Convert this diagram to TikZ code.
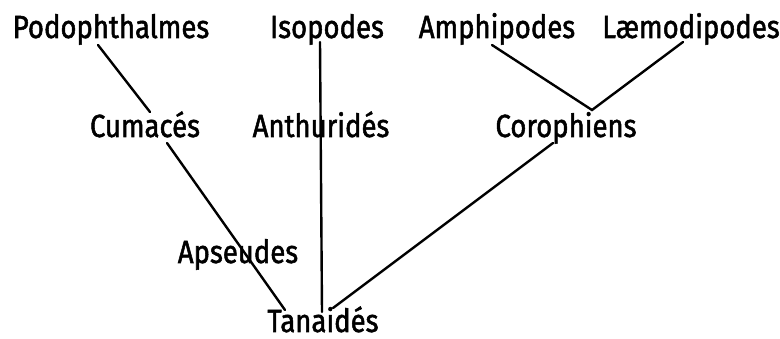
\documentclass[tikz,border=0pt]{standalone}
\usepackage{fontspec}
\setmainfont[FakeStretch=0.86,FakeBold=1.6]{Fira Sans}
\begin{document}
\begin{tikzpicture}[x=1pt,y=-1pt,
  lbl/.style={anchor=base,inner sep=0pt,font=\fontsize{32}{32}\selectfont},
  branch/.style={line width=2.4pt,line cap=round}]
\useasboundingbox (0,0) rectangle (780,339);
% labels
\node[lbl] (podo) at (111,38) {Podophthalmes};
\node[lbl] (iso) at (327,38) {Isopodes};
\node[lbl] (amphi) at (497,38) {Amphipodes};
\node[lbl] (laemo) at (691,38) {Læmodipodes};
\node[lbl] (cuma) at (145,137) {Cumacés};
\node[lbl] (anth) at (321,137) {Anthuridés};
\node[lbl] (coro) at (566,137) {Corophiens};
\node[lbl] (apse) at (238,263) {Apseudes};
\node[lbl] (tana) at (323,332) {Tanaidés};
% connector ends
\coordinate (podoB) at (98,45);
\coordinate (cumaT) at (150,112);
\coordinate (cumaB) at (167,143);
\coordinate (isoB) at (320,42);
\coordinate (amphiB) at (492,45);
\coordinate (laemoB) at (683,42);
\coordinate (coroJ) at (592,110);
\coordinate (coroB) at (553,143);
\coordinate (tanaL) at (285,310);
\coordinate (tanaM) at (322,312);
\coordinate (tanaR) at (333,308);
% connectors
\draw[branch] (podoB) -- (cumaT);
\draw[branch] (cumaB) -- (tanaL);
\draw[branch] (isoB) -- (tanaM);
\draw[branch] (amphiB) -- (coroJ) -- (laemoB);
\draw[branch] (coroB) -- (tanaR);
\end{tikzpicture}
\end{document}
